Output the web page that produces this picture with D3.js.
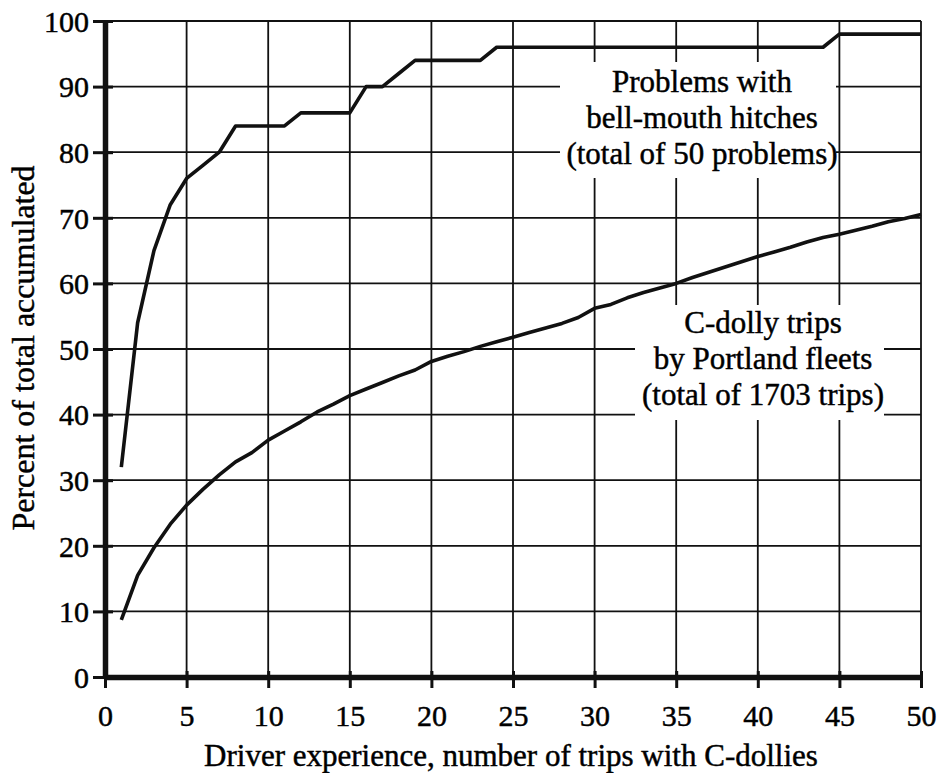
<!DOCTYPE html>
<html>
<head>
<meta charset="utf-8">
<script src="https://cdn.jsdelivr.net/npm/d3@7"></script>
<style>
  html, body { margin: 0; padding: 0; background: #fff; }
  svg { display: block; }
  text { font-family: "Liberation Serif", "Times New Roman", Times, serif; fill: #000; stroke: #000; stroke-width: 0.45px; }
</style>
</head>
<body>
<svg id="chart" width="943" height="773"></svg>
<script>
// ---- data ----
const trips = [1,2,3,4,5,6,7,8,9,10,11,12,13,14,15,16,17,18,19,20,21,22,23,24,25,26,27,28,29,30,31,32,33,34,35,36,37,38,39,40,41,42,43,44,45,46,47,48,49,50];
const problemsPct = [32,54,65,72,76,78,80,84,84,84,84,86,86,86,86,90,90,92,94,94,94,94,94,96,96,96,96,96,96,96,96,96,96,96,96,96,96,96,96,96,96,96,96,96,98,98,98,98,98,98];
const dollyPct = [8.7,15.5,19.7,23.3,26.2,28.6,30.8,32.8,34.2,36.1,37.5,38.9,40.4,41.6,42.9,43.9,44.9,45.9,46.8,48.1,48.9,49.6,50.4,51.1,51.8,52.5,53.2,53.9,54.8,56.2,56.8,57.8,58.6,59.3,60.0,60.9,61.7,62.5,63.3,64.1,64.8,65.5,66.3,67.0,67.5,68.1,68.7,69.4,69.9,70.5];
const xTicks = [0,5,10,15,20,25,30,35,40,45,50];
const yTicks = [0,10,20,30,40,50,60,70,80,90,100];
const xTitle = "Driver experience, number of trips with C-dollies";
const yTitle = "Percent of total accumulated";
const problemsLabel = ["Problems with", "bell-mouth hitches", "(total of 50 problems)"];
const dollyLabel = ["C-dolly trips", "by Portland fleets", "(total of 1703 trips)"];

// ---- layout ----
const svg = d3.select("#chart");
const x = d3.scaleLinear().domain([0, 50]).range([105, 921]);
const y = d3.scaleLinear().domain([0, 100]).range([677, 21]);
const ink = "#111";

// grid
const grid = svg.append("g");
grid.selectAll("line.v").data(xTicks.slice(1)).join("line")
  .attr("x1", d => x(d)).attr("x2", d => x(d))
  .attr("y1", y(0)).attr("y2", y(100))
  .attr("stroke", ink).attr("stroke-width", 1.8);
grid.selectAll("line.h").data(yTicks.slice(1)).join("line")
  .attr("x1", x(0)).attr("x2", x(50))
  .attr("y1", d => y(d)).attr("y2", d => y(d))
  .attr("stroke", ink).attr("stroke-width", 1.8);

// white boxes behind the curve labels (gridlines are interrupted there)
svg.append("rect").attr("x", 560).attr("y", 62).attr("width", 276).attr("height", 116).attr("fill", "#fff");
svg.append("rect").attr("x", 635).attr("y", 305).attr("width", 249).attr("height", 115).attr("fill", "#fff");

// axes
const yAxis = svg.append("g").attr("transform", `translate(${x(0)},0)`)
  .call(d3.axisLeft(y).tickValues(yTicks).tickSize(12).tickSizeOuter(0).tickPadding(5));
const xAxis = svg.append("g").attr("transform", `translate(0,${y(0)})`)
  .call(d3.axisBottom(x).tickValues(xTicks).tickSize(11).tickSizeOuter(0).tickPadding(0));

[yAxis, xAxis].forEach(g => {
  g.select(".domain").attr("stroke", ink).attr("stroke-width", 5.5);
  g.selectAll(".tick line").attr("stroke", ink).attr("stroke-width", 3);
  g.selectAll(".tick text").attr("font-size", 30)
    .style("font-family", '"Liberation Serif", "Times New Roman", serif').attr("fill", "#000");
});
yAxis.selectAll(".tick line").attr("x1", 8);
yAxis.selectAll(".tick text").attr("x", -16).attr("dy", "0.34em");
xAxis.selectAll(".tick line").attr("y1", -6);
xAxis.selectAll(".tick text").attr("y", 49).attr("dy", 0);

// curves
const line = d3.line().x(d => x(d[0])).y(d => y(d[1]));
svg.append("path").datum(trips.map((t, i) => [t, problemsPct[i]]))
  .attr("d", line).attr("fill", "none").attr("stroke", ink)
  .attr("stroke-width", 3.6).attr("stroke-linejoin", "round");
svg.append("path").datum(trips.map((t, i) => [t, dollyPct[i]]))
  .attr("d", line).attr("fill", "none").attr("stroke", ink)
  .attr("stroke-width", 3.6).attr("stroke-linejoin", "round");

// curve labels
svg.append("g").selectAll("text").data(problemsLabel).join("text")
  .attr("x", 702).attr("y", (d, i) => 92 + i * 36)
  .attr("text-anchor", "middle").attr("font-size", 31).text(d => d);
svg.append("g").selectAll("text").data(dollyLabel).join("text")
  .attr("x", 763).attr("y", (d, i) => 333 + i * 36)
  .attr("text-anchor", "middle").attr("font-size", 31).text(d => d);

// axis titles
svg.append("text").attr("x", 511).attr("y", 766).attr("text-anchor", "middle")
  .attr("font-size", 31).text(xTitle);
svg.append("text").attr("transform", "translate(34,348) rotate(-90)")
  .attr("text-anchor", "middle").attr("font-size", 32).text(yTitle);
</script>
</body>
</html>
